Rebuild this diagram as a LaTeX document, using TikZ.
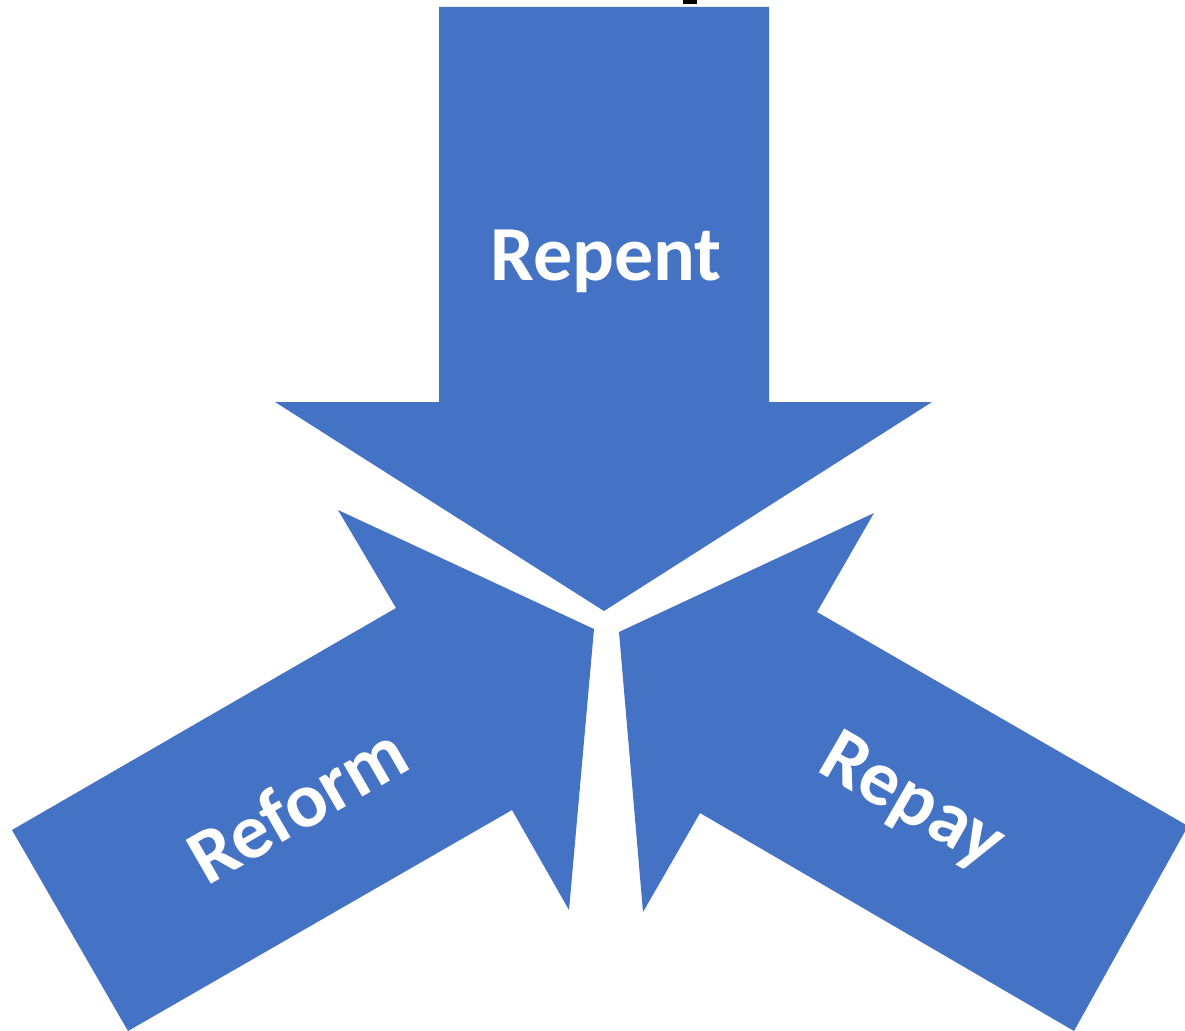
\documentclass[tikz,border=0pt]{standalone}
\usepackage{fontspec}
\setmainfont{Carlito}
\definecolor{arrowblue}{HTML}{4472C4}
\begin{document}
\begin{tikzpicture}[x=1pt,y=-1pt,
  blockarrow/.style={fill=arrowblue,draw=none},
  arrowlabel/.style={text=white,font=\fontsize{78}{82}\selectfont\bfseries,inner sep=0pt}]
\useasboundingbox (0,0) rectangle (1185,1030);
\clip (0,0) rectangle (1185,1030);
% small dark mark at the top edge
\fill[black] (683,0) rectangle (697,4);
% downward arrow
\fill[blockarrow] (439,7) -- (769,7) -- (769,402) -- (932,402) -- (604,611)
  -- (275,402) -- (439,402) -- cycle;
% arrow from the lower left
\fill[blockarrow] (338,510) -- (396,608) -- (12,830) -- (128,1031) -- (512,810)
  -- (569,910) -- (594,629) -- cycle;
% arrow from the lower right
\fill[blockarrow] (874,513) -- (817,612) -- (1188,826) -- (1074,1031) -- (700,813)
  -- (643,912) -- (619,632) -- cycle;
\node[arrowlabel] (repent) at (606,261) {Repent};
\node[arrowlabel,rotate=30] (reform) at (297,804) {Reform};
\node[arrowlabel,rotate=-30] (repay) at (911,803) {Repay};
\end{tikzpicture}
\end{document}
